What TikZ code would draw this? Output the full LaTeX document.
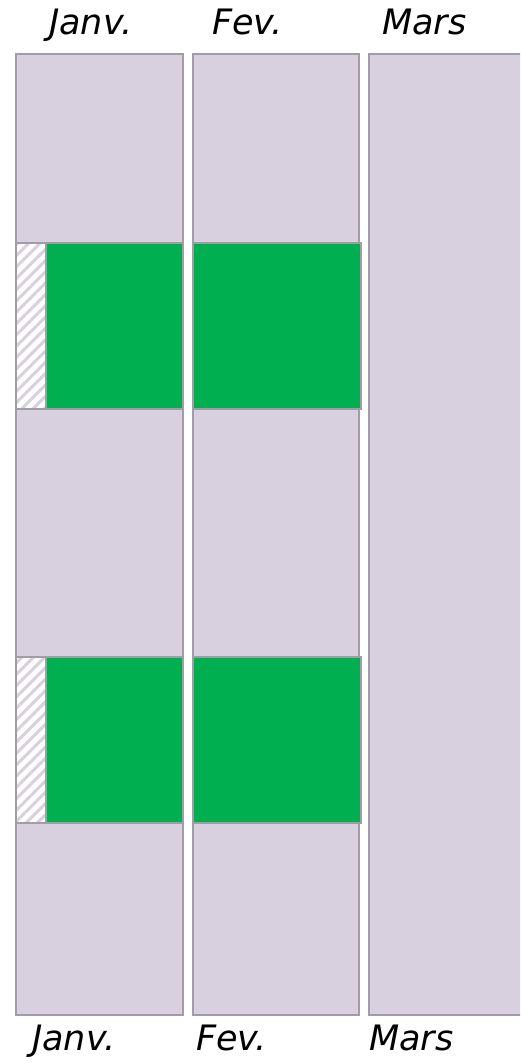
\documentclass[tikz,border=0pt]{standalone}
\usepackage{fontspec}
\setmainfont{DejaVu Sans}
\usetikzlibrary{patterns.meta}
\definecolor{monthfill}{HTML}{D8D0DE}
\definecolor{monthline}{HTML}{A29CA6}
\definecolor{busy}{HTML}{00AF50}
\begin{document}
\begin{tikzpicture}[x=1pt,y=-1pt,
    month/.style={font=\fontsize{35}{40}\selectfont\itshape,anchor=base west,inner sep=0pt},
    col/.style={fill=monthfill,draw=monthline,line width=2.5pt},
    slot/.style={fill=busy,draw=monthline,line width=2.5pt},
    hatch/.style={pattern={Lines[angle=45,distance=8pt,line width=3pt]},pattern color=monthfill}]
  \useasboundingbox (0,0) rectangle (520,1064);
  \begin{scope}
    \clip (0,0) rectangle (520,1064);
    % the three months
    \draw[col] (16,54) rectangle (183,1015);
    \draw[col] (193,54) rectangle (359,1015);
    \draw[col] (369,54) rectangle (530,1015);
    % busy slots
    \foreach \top/\bot in {243/409, 657/823} {
      \fill[white] (16,\top) rectangle (46,\bot);
      \fill[hatch] (16,\top) rectangle (46,\bot);
      \draw[monthline,line width=2.5pt] (16,\top) rectangle (46,\bot);
      \draw[slot] (46,\top) rectangle (183,\bot);
      \draw[slot] (193,\top) rectangle (361,\bot);
    }
    % labels
    \node[month] (janTop) at (49,35) {Janv.};
    \node[month] (fevTop) at (212,35) {Fev.};
    \node[month] (marTop) at (382,35) {Mars};
    \node[month] (janBot) at (32,1050) {Janv.};
    \node[month] (fevBot) at (196,1050) {Fev.};
    \node[month] (marBot) at (369,1050) {Mars};
  \end{scope}
\end{tikzpicture}
\end{document}
